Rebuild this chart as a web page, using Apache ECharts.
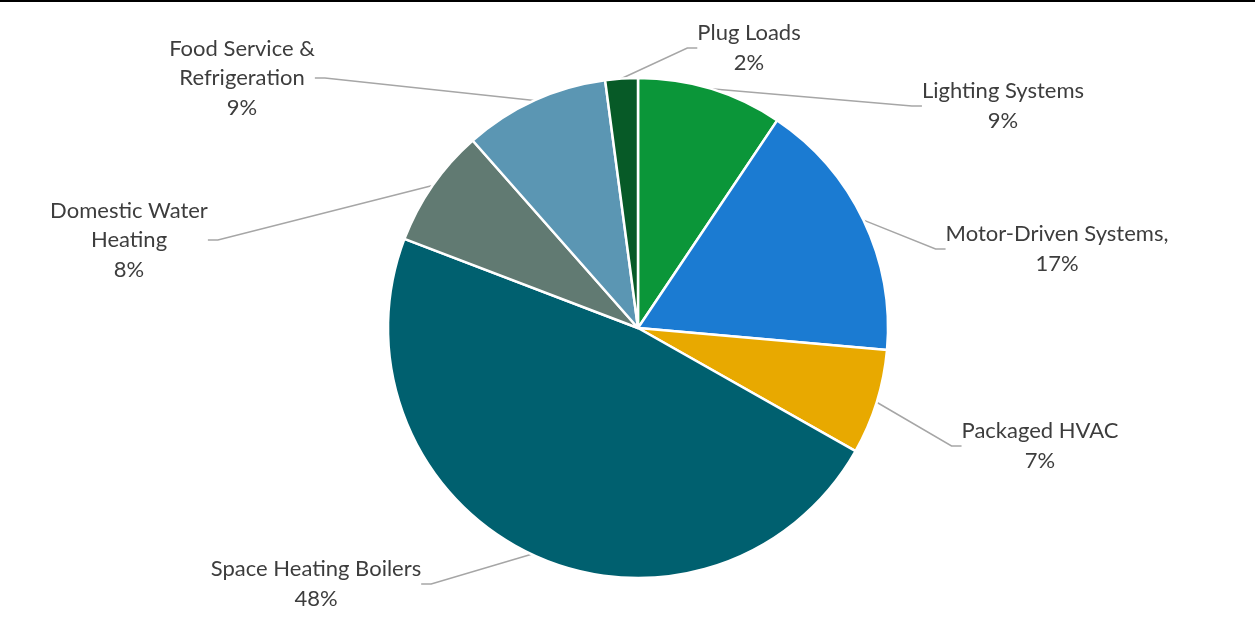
<!DOCTYPE html>
<html>
<head>
<meta charset="utf-8">
<script src="https://cdn.jsdelivr.net/npm/echarts@6/dist/echarts.min.js"></script>
<style>
  html, body { margin: 0; padding: 0; background: #fff; }
  #chart { width: 1255px; height: 628px; }
</style>
</head>
<body>
<div id="chart"></div>
<script>
// categories, clockwise from 12 o'clock
var categories = [
  'Lighting Systems',
  'Motor-Driven Systems,',
  'Packaged HVAC',
  'Space Heating Boilers',
  'Domestic Water\nHeating',
  'Food Service &\nRefrigeration',
  'Plug Loads'
];
// share of energy use (%)
var shares = [9.4, 17.0, 6.8, 47.6, 7.7, 9.4, 2.1];
var colors = ['#0b9639', '#1b7bd2', '#e8a900', '#00606f', '#617a72', '#5b96b3', '#075a27'];

// where each label box sits (centre), like in the original
var labelX = [1003, 1057, 1040, 316, 129, 242, 749];
var labelY = [106, 249, 446, 584, 240, 78, 48];

var chart = echarts.init(document.getElementById('chart'));

var pieData = [];
for (var i = 0; i < categories.length; i++) {
  pieData.push({
    name: categories[i],
    value: shares[i],
    itemStyle: { color: colors[i] }
  });
}

var option = {
  backgroundColor: '#fff',
  animation: false,
  graphic: [{
    type: 'rect',
    shape: { x: 0, y: 0, width: 1255, height: 2 },
    style: { fill: '#000' }
  }],
  series: [{
    type: 'pie',
    center: [638, 328],
    radius: 250,
    startAngle: 90,
    clockwise: true,
    percentPrecision: 0,
    data: pieData,
    itemStyle: {
      borderColor: '#fff',
      borderWidth: 2.5
    },
    label: {
      show: true,
      formatter: '{b}\n{d}%',
      fontFamily: 'Lato',
      fontSize: 22,
      lineHeight: 29.5,
      color: '#3d3d3d',
      align: 'center'
    },
    labelLine: {
      show: true,
      length: 20,
      length2: 10,
      lineStyle: { color: '#a6a6a6', width: 1.5 }
    },
    labelLayout: function (p) {
      return {
        x: labelX[p.dataIndex],
        y: labelY[p.dataIndex],
        align: 'center',
        verticalAlign: 'middle',
        hideOverlap: false
      };
    }
  }]
};

chart.setOption(option);
</script>
</body>
</html>
